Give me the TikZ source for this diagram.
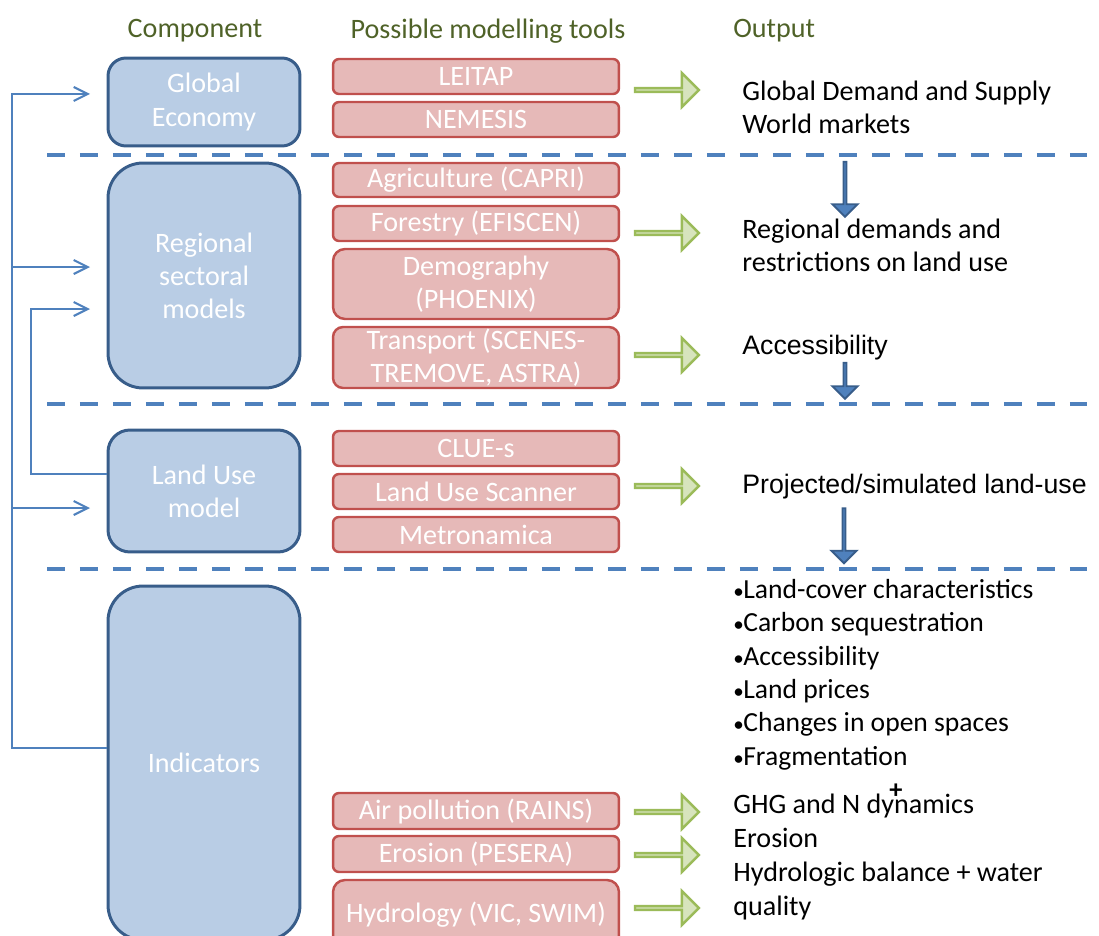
\documentclass[tikz,border=0pt]{standalone}
\usepackage{fontspec}
\setmainfont{Carlito}
\newfontfamily\arialfont{Liberation Sans}
\usetikzlibrary{shapes.arrows,arrows.meta}
\definecolor{compfill}{RGB}{185,205,229}
\definecolor{compline}{RGB}{56,93,138}
\definecolor{toolfill}{RGB}{230,185,184}
\definecolor{toolline}{RGB}{192,80,77}
\definecolor{arrfill}{RGB}{215,228,189}
\definecolor{arrline}{RGB}{155,187,89}
\definecolor{sepblue}{RGB}{79,129,189}
\definecolor{headgreen}{RGB}{79,98,40}
\newcommand{\bul}{{\fontsize{12}{12}\selectfont•}\kern-0.3pt}

\begin{document}
\begin{tikzpicture}[x=0.02cm, y=-0.02cm,
  every node/.style={font=\fontsize{16}{18.8}\selectfont},
  head/.style={text=headgreen},
  comp/.style={draw=compline, fill=compfill, line width=1.7pt, text=white, align=center, minimum width=3.84cm},
  tool/.style={draw=toolline, fill=toolfill, line width=1.4pt, rounded corners=0.12cm, text=white, align=center, minimum width=5.72cm, inner sep=0pt},
  outtext/.style={anchor=west, align=left, inner sep=0pt},
  outarrow/.style={single arrow, draw=arrline, fill=arrfill, line width=1.4pt, minimum height=1.28cm, minimum width=0.68cm, single arrow head extend=0.19cm, inner sep=0pt},
  downarrow/.style={single arrow, shape border rotate=270, draw=compline, fill=sepblue, line width=1.1pt, minimum width=0.5cm, single arrow head extend=0.14cm, inner sep=0pt},
  separator/.style={sepblue, line width=2.3pt, dash pattern=on 0.36cm off 0.3cm},
  feedback/.style={sepblue, line width=1.2pt, -{Straight Barb[length=2.8mm,width=2.8mm]}}]
  \useasboundingbox (0,0) rectangle (1099,936);

  % column heads
  \node[head] (hComp) at (195,31) {Component};
  \node[head] (hTools) at (488,31) {Possible modelling tools};
  \node[head, anchor=west, inner sep=0pt] (hOut) at (733,31) {Output};

  % separators
  \draw[separator] (47,155) -- (1087,155);
  \draw[separator] (47,404) -- (1087,404);
  \draw[separator] (47,569) -- (1087,569);

  % components
  \node[comp, rounded corners=0.36cm, minimum height=1.76cm] (GE) at (204,102) {Global\\Economy};
  \node[comp, rounded corners=0.7cm, minimum height=4.5cm] (RS) at (204,275.5) {Regional\\sectoral\\models};
  \node[comp, rounded corners=0.44cm, minimum height=2.44cm] (LU) at (204,491) {Land Use\\model};
  \node[comp, rounded corners=0.7cm, minimum height=7.08cm] (IN) at (204,763) {Indicators};

  % tools
  \node[tool, minimum height=0.7cm] (LEITAP) at (476,76.5) {LEITAP};
  \node[tool, minimum height=0.7cm] (NEMESIS) at (476,119.5) {NEMESIS};
  \node[tool, minimum height=0.68cm] (CAPRI) at (476,180) {Agriculture (CAPRI)};
  \node[tool, minimum height=0.7cm] (EFISCEN) at (476,223.5) {Forestry (EFISCEN)};
  \node[tool, minimum height=1.4cm, rounded corners=0.24cm] (PHOENIX) at (476,284) {Demography\\(PHOENIX)};
  \node[tool, minimum height=1.22cm, rounded corners=0.2cm] (SCENES) at (476,357.5) {Transport (SCENES-\\TREMOVE, ASTRA)};
  \node[tool, minimum height=0.7cm] (CLUE) at (476,448.5) {CLUE-s};
  \node[tool, minimum height=0.7cm] (LUS) at (476,491.5) {Land Use Scanner};
  \node[tool, minimum height=0.7cm] (METRO) at (476,534.5) {Metronamica};
  \node[tool, minimum height=0.72cm] (RAINS) at (476,811) {Air pollution (RAINS)};
  \node[tool, minimum height=0.72cm] (PESERA) at (476,854) {Erosion (PESERA)};
  \node[tool, minimum height=1.4cm, rounded corners=0.24cm] (HYDRO) at (476,915) {Hydrology (VIC, SWIM)};

  % outputs
  \node[outarrow] (aGE) at (666,90) {};
  \node[outarrow] (aRS) at (666,233) {};
  \node[outarrow] (aTR) at (666,355) {};
  \node[outarrow] (aLU) at (666,486) {};
  \node[outarrow] (aAIR) at (666,812) {};
  \node[outarrow] (aERO) at (666,855) {};
  \node[outarrow] (aHYD) at (666,908) {};

  \node[outtext] (oGE) at (742,107.5) {Global Demand and Supply\\World markets};
  \node[outtext] (oRS) at (742,245.5) {Regional demands and\\restrictions on land use};
  \node[outtext, font=\arialfont\fontsize{15.2}{18}\selectfont] (oTR) at (742,348) {Accessibility};
  \node[outtext, font=\arialfont\fontsize{15.2}{18}\selectfont] (oLU) at (742,487) {Projected/simulated land-use};
  \node[outtext, font=\fontsize{15.7}{19}\selectfont] (oIN) at (733,674.5) {\bul Land-cover characteristics\\\bul Carbon sequestration\\\bul Accessibility\\\bul Land prices\\\bul Changes in open spaces\\\bul Fragmentation};
  \node[outtext, font=\fontsize{16}{19.3}\selectfont] (oENV) at (733,857) {GHG and N dynamics\\Erosion\\Hydrologic balance + water\\quality};
  \node[inner sep=0pt, font=\fontsize{15}{15}\selectfont\bfseries] (plus) at (896,791) {+};

  \node[downarrow, minimum height=1.1cm] (dGE) at (845,188.5) {};
  \node[downarrow, minimum height=0.72cm] (dTR) at (845,380) {};
  \node[downarrow, minimum height=1.1cm] (dLU) at (844,535) {};

  % feedback loops
  \coordinate (loopA) at (12,748);
  \coordinate (loopB) at (31,474);
  \coordinate (inGE) at (90,94);
  \coordinate (inRS) at (90,267);
  \coordinate (inRSb) at (90,309);
  \coordinate (inLU) at (90,508);
  \draw[feedback] (IN.west |- loopA) -- (loopA) |- (inGE);
  \draw[feedback] (loopA |- inRS) -- (inRS);
  \draw[feedback] (loopA |- inLU) -- (inLU);
  \draw[feedback] (LU.west |- loopB) -- (loopB) |- (inRSb);
\end{tikzpicture}
\end{document}
